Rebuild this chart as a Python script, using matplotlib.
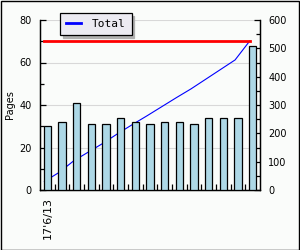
import matplotlib
matplotlib.use("Agg")
import matplotlib.pyplot as plt
from matplotlib.patches import Rectangle
from matplotlib.ticker import MultipleLocator, FixedLocator
from matplotlib.lines import Line2D
import numpy as np

# Data
categories = ["17'6/13"] + [""] * 14
pages = [30, 32, 41, 31, 31, 34, 32, 31, 32, 32, 31, 34, 34, 34, 68]
total = [30, 62, 103, 134, 165, 199, 231, 262, 294, 326, 357, 391, 425, 459, 526]
target = [70] * 15

bg = '#fafcfa'
fig = plt.figure(figsize=(3.0, 2.5), dpi=100, facecolor=bg)
ax = fig.add_axes([40/300, 1-190/250, 220/300, 170/250])
ax.set_facecolor(bg)
ax2 = ax.twinx()

x = np.arange(len(pages))
line_x = x - 0.2

ax.set_xlim(-0.5, len(pages) - 0.5)
ax.set_ylim(0, 80)
ax2.set_ylim(0, 600)

ax.set_zorder(2)
ax2.set_zorder(1)
ax.patch.set_visible(False)
ax2.patch.set_facecolor(bg)
ax2.patch.set_visible(True)

# grid (on the back axes so it stays behind the line)
for v in [20, 40, 60, 80]:
    ax2.axhline(v * 7.5, color='#d8d8d8', lw=0.8, zorder=0)

ax2.plot(line_x, total, color='blue', lw=0.8, zorder=1)

ax.bar(x, pages, width=0.48, color='#add8e6', edgecolor='black', lw=0.9, zorder=3)
ax.plot(line_x, target, color='red', lw=2, zorder=4)

for a in (ax, ax2):
    a.spines['top'].set_visible(False)
    a.spines['left'].set_linewidth(0.9)
    a.spines['right'].set_linewidth(0.9)
    a.spines['bottom'].set_linewidth(0.9)

ax.yaxis.set_major_locator(MultipleLocator(20))
ax.yaxis.set_minor_locator(MultipleLocator(10))
ax2.yaxis.set_major_locator(MultipleLocator(100))
ax2.yaxis.set_minor_locator(MultipleLocator(50))
ax.tick_params(axis='y', which='major', direction='in', length=4, width=0.9, labelsize=7, pad=6)
ax.tick_params(axis='y', which='minor', direction='in', length=3, width=0.9)
ax2.tick_params(axis='y', which='major', direction='in', length=4, width=0.9, labelsize=7, pad=6)
ax2.tick_params(axis='y', which='minor', direction='in', length=3, width=0.9)

ax.set_xticks(x)
ax.set_xticklabels(categories, rotation=90, fontsize=8)
ax.tick_params(axis='x', which='major', length=0, pad=5)
ax.xaxis.set_minor_locator(FixedLocator(x[:-1] + 0.5))
ax.tick_params(axis='x', which='minor', direction='in', length=4, width=0.9)

ax.set_ylabel('Pages', fontsize=7, labelpad=3)

handle = Line2D([], [], color='blue', lw=2)
leg = fig.legend([handle], ['Total'], loc='upper left',
                 bbox_to_anchor=(60/300, 1-13/250), fontsize=8,
                 frameon=True, fancybox=False, shadow={'color': '#b0b0b0', 'alpha': 1},
                 handlelength=1.3, borderpad=0.55, handletextpad=1.0,
                 borderaxespad=0)
leg.get_frame().set_facecolor('#ecebf2')
leg.get_frame().set_edgecolor('black')
leg.get_frame().set_linewidth(0.9)
leg.get_frame().set_alpha(1)
for t in leg.get_texts():
    t.set_fontfamily('DejaVu Sans Mono')

fig.patches.append(Rectangle((0.002, 0.002), 0.995, 0.995, transform=fig.transFigure,
                             fill=False, edgecolor='black', lw=1))

fig.savefig('out.png', dpi=100, facecolor=bg)
